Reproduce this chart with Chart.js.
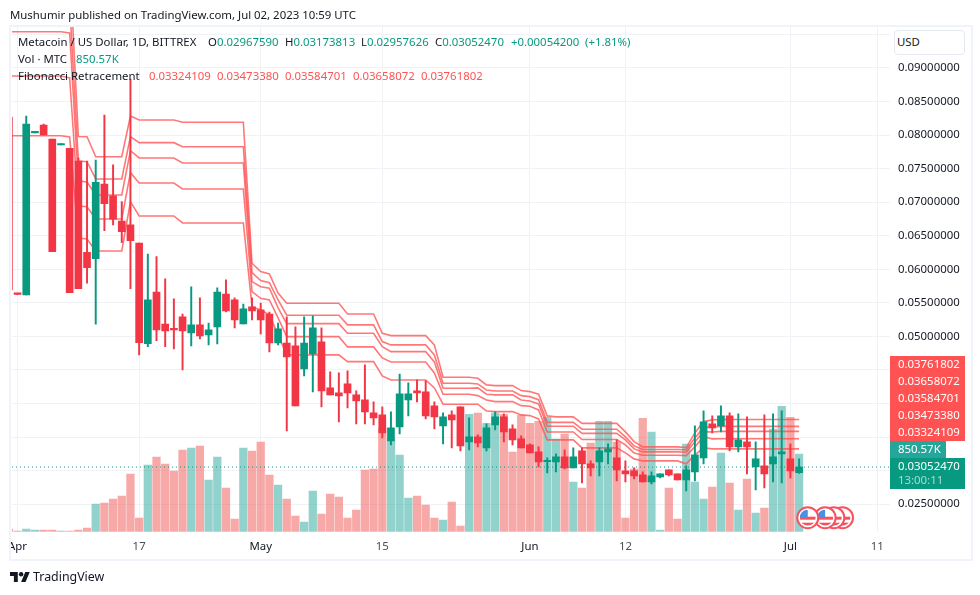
<!DOCTYPE html>
<html>
<head>
<meta charset="utf-8">
<title>Metacoin / US Dollar</title>
<script src="https://cdn.jsdelivr.net/npm/chart.js@4"></script>
<style>
  html, body { margin: 0; background: #fff; }
  #wrap { position: relative; width: 980px; height: 595px; overflow: hidden; font: 11.4px "Noto Sans", sans-serif; color: #131722; }
  #wrap canvas { position: absolute; left: 0; top: 0; }
  .txt { position: absolute; white-space: nowrap; line-height: 16px; }
  .up { color: #089981; }
  .fib { color: #ff5252; }
  #frame { position: absolute; left: 9px; top: 25px; width: 960px; height: 532px; border: 2px solid #f0f3fa; }
  #mask { position: absolute; left: 0; top: 532px; width: 9px; height: 28px; background: #fff; }
  #usd { position: absolute; left: 894px; top: 30px; width: 71px; height: 25px; background: #fff; border: 1px solid #e6e8ef; border-radius: 4px; box-sizing: border-box; padding: 3px 2px; line-height: 16px; }
  #logo { position: absolute; left: 10px; top: 572px; }
</style>
</head>
<body>
<div id="wrap">
  <canvas id="chart" width="980" height="595"></canvas>
  <div id="frame"></div>
  <div id="mask"></div>
  <div class="txt" style="left:10px;top:7px">Mushumir published on TradingView.com, Jul 02, 2023 10:59 UTC</div>

  <div class="txt" style="left:18px;top:34px">Metacoin / US Dollar, 1D, BITTREX</div>
  <div class="txt" style="left:208px;top:34px">O<span class="up">0.02967590</span></div>
  <div class="txt" style="left:285px;top:34px">H<span class="up">0.03173813</span></div>
  <div class="txt" style="left:361px;top:34px">L<span class="up">0.02957626</span></div>
  <div class="txt" style="left:435px;top:34px">C<span class="up">0.03052470</span></div>
  <div class="txt up" style="left:511px;top:34px">+0.00054200</div>
  <div class="txt up" style="left:585px;top:34px">(+1.81%)</div>

  <div class="txt" style="left:18px;top:51px">Vol · MTC</div>
  <div class="txt up" style="left:76px;top:51px">850.57K</div>

  <div class="txt" style="left:18px;top:68px">Fibonacci Retracement</div>
  <div class="txt fib" style="left:149px;top:68px">0.03324109</div>
  <div class="txt fib" style="left:217px;top:68px">0.03473380</div>
  <div class="txt fib" style="left:285px;top:68px">0.03584701</div>
  <div class="txt fib" style="left:353px;top:68px">0.03658072</div>
  <div class="txt fib" style="left:421px;top:68px">0.03761802</div>

  <div id="usd">USD</div>

  <svg id="logo" width="20" height="10" viewBox="0 4 36 18"><path fill="#131722" d="M14 22H7V11H0V4h14v18zM28 22h-8l7.5-18h8L28 22z"/><circle fill="#131722" cx="20" cy="8" r="4"/></svg>
  <div class="txt" style="left:33px;top:569px;font-size:12.4px">TradingView</div>
</div>

<script>
// day 0 is Apr 2 2023, one candle per day up to Jul 2
const tickDays = [1, 15, 29, 43, 60, 71, 90, 100];
const tickLabels = ["Apr", "17", "May", "15", "Jun", "12", "Jul", "11"];
const eventDays = [96, 95, 94, 92];

const opens = [
  0.08270, 0.05632, 0.05617, 0.08034, 0.08150, 0.07942, 0.07853, 0.07803, 0.07614, 0.06254,
  0.06158, 0.07271, 0.07093, 0.06720, 0.06661, 0.06392, 0.04892, 0.05662, 0.05185, 0.05111,
  0.05290, 0.05051, 0.05171, 0.05022, 0.05141, 0.05632, 0.05543, 0.05185, 0.05439, 0.05394,
  0.05334, 0.04902, 0.04902, 0.04858, 0.04515, 0.04738, 0.04917, 0.04232, 0.04157, 0.04291,
  0.04128, 0.04053, 0.03859, 0.03830, 0.03442, 0.03651, 0.04053, 0.04187, 0.04172, 0.03964,
  0.03666, 0.03830, 0.03949, 0.03427, 0.03502, 0.03338, 0.03681, 0.03800, 0.03621, 0.03472,
  0.03383, 0.03278, 0.03132, 0.03129, 0.03204, 0.03040, 0.03293, 0.03100, 0.03129, 0.03278,
  0.03189, 0.02995, 0.02995, 0.02936, 0.02831, 0.02906, 0.03010, 0.02950, 0.02861, 0.02980,
  0.03189, 0.03695, 0.03666, 0.03815, 0.03353, 0.03427, 0.03055, 0.03070, 0.03100, 0.03248,
  0.03174, 0.02967590
];
const highs = [
  0.08270, 0.05632, 0.08285, 0.08046, 0.08165, 0.07942, 0.07868, 0.07803, 0.07659, 0.07614,
  0.07629, 0.08300, 0.07555, 0.07008, 0.08836, 0.06392, 0.06228, 0.06188, 0.05856, 0.05558,
  0.05334, 0.05737, 0.05573, 0.05200, 0.05722, 0.05841, 0.05573, 0.05483, 0.05573, 0.05498,
  0.05364, 0.05200, 0.05290, 0.05141, 0.05290, 0.05305, 0.05126, 0.04470, 0.04455, 0.04485,
  0.04187, 0.04575, 0.04023, 0.03949, 0.03874, 0.04440, 0.04306, 0.04351, 0.04336, 0.04023,
  0.03859, 0.03889, 0.03949, 0.03785, 0.03532, 0.03695, 0.03874, 0.03844, 0.03681, 0.03517,
  0.03397, 0.03353, 0.03189, 0.03248, 0.03308, 0.03338, 0.03338, 0.03144, 0.03338, 0.03397,
  0.03457, 0.03144, 0.03040, 0.02980, 0.02980, 0.02950, 0.03010, 0.02950, 0.03070, 0.03666,
  0.03889, 0.03815, 0.03964, 0.03859, 0.03844, 0.03800, 0.03427, 0.03830, 0.03844, 0.03889,
  0.03397, 0.03173813
];
const lows = [
  0.05692, 0.05625, 0.05617, 0.08034, 0.08001, 0.06263, 0.07853, 0.05652, 0.05711, 0.05792,
  0.05181, 0.06576, 0.06661, 0.06397, 0.05711, 0.04724, 0.04847, 0.04937, 0.04847, 0.04813,
  0.04500, 0.04858, 0.04962, 0.04873, 0.04888, 0.05364, 0.05126, 0.05185, 0.05245, 0.05037,
  0.04768, 0.04873, 0.03591, 0.03964, 0.04411, 0.04172, 0.03949, 0.04128, 0.03725, 0.03934,
  0.03695, 0.03695, 0.03681, 0.03487, 0.03383, 0.03546, 0.03815, 0.04023, 0.03770, 0.03621,
  0.03397, 0.03338, 0.03293, 0.03308, 0.03353, 0.03293, 0.03606, 0.03427, 0.03383, 0.03338,
  0.03263, 0.03055, 0.02965, 0.02980, 0.03025, 0.03040, 0.02816, 0.02921, 0.02921, 0.03100,
  0.02846, 0.02831, 0.02876, 0.02831, 0.02801, 0.02891, 0.02921, 0.02861, 0.02697, 0.02846,
  0.03100, 0.03561, 0.03576, 0.03293, 0.03278, 0.02950, 0.02712, 0.02742, 0.02831, 0.02816,
  0.02891, 0.02957626
];
const closes = [
  0.05692, 0.05625, 0.08165, 0.08046, 0.08001, 0.06263, 0.07868, 0.05652, 0.05711, 0.06024,
  0.07297, 0.06978, 0.06746, 0.06561, 0.06427, 0.04907, 0.05543, 0.05096, 0.05081, 0.05096,
  0.05081, 0.05171, 0.05007, 0.05096, 0.05662, 0.05379, 0.05245, 0.05409, 0.05379, 0.05245,
  0.04902, 0.05111, 0.04694, 0.03964, 0.04902, 0.05126, 0.04187, 0.04128, 0.04113, 0.04157,
  0.04038, 0.03874, 0.03785, 0.03561, 0.03636, 0.04142, 0.04142, 0.04157, 0.03815, 0.03800,
  0.03800, 0.03755, 0.03368, 0.03502, 0.03412, 0.03636, 0.03800, 0.03576, 0.03457, 0.03338,
  0.03263, 0.03129, 0.03144, 0.03204, 0.03040, 0.03204, 0.03100, 0.03040, 0.03293, 0.03323,
  0.03010, 0.02950, 0.02921, 0.02831, 0.02921, 0.02950, 0.02936, 0.02861, 0.03010, 0.03234,
  0.03725, 0.03636, 0.03815, 0.03353, 0.03457, 0.03353, 0.03174, 0.02950, 0.03204, 0.03278,
  0.02995, 0.03052470
];
// volume in thousands of MTC
const volumes = [
  30, 8, 30, 19, 19, 19, 8, 8, 19, 41,
  303, 314, 358, 391, 632, 150, 730, 818, 741, 665,
  895, 917, 938, 566, 818, 479, 139, 917, 884, 982,
  621, 511, 358, 172, 106, 446, 194, 413, 380, 150,
  238, 676, 687, 1136, 1015, 840, 369, 391, 292, 150,
  128, 325, 62, 1289, 1300, 1190, 1300, 1289, 873, 1278,
  1190, 1212, 1256, 1015, 1070, 544, 479, 971, 1212, 1212,
  982, 150, 687, 1245, 1092, 19, 479, 139, 960, 544,
  358, 489, 862, 533, 238, 577, 205, 260, 1125, 1376,
  1256, 850.57
];

const fib100 = [
  0.10594, 0.10594, 0.10594, 0.10594, 0.10594, 0.10594, 0.10594, 0.10564, 0.07979, 0.07976,
  0.07678, 0.07678, 0.07678, 0.07678, 0.08285, 0.08225, 0.08225, 0.08225, 0.08225, 0.08225,
  0.08191, 0.08191, 0.08191, 0.08191, 0.08191, 0.08191, 0.08191, 0.08191, 0.06090, 0.05965,
  0.05931, 0.05647, 0.05494, 0.05494, 0.05494, 0.05494, 0.05494, 0.05494, 0.05494, 0.05334,
  0.05334, 0.05334, 0.05334, 0.05047, 0.05011, 0.05011, 0.05011, 0.05011, 0.05011, 0.04873,
  0.04391, 0.04391, 0.04391, 0.04391, 0.04376, 0.04277, 0.04266, 0.04266, 0.04266, 0.04192,
  0.04177, 0.04138, 0.03815, 0.03800, 0.03800, 0.03800, 0.03703, 0.03703, 0.03703, 0.03703,
  0.03703, 0.03576, 0.03432, 0.03353, 0.03353, 0.03353, 0.03353, 0.03353, 0.03342, 0.03561,
  0.03730, 0.03755, 0.03761802, 0.03761802, 0.03761802, 0.03761802, 0.03761802, 0.03761802, 0.03761802, 0.03761802,
  0.03761802, 0.03761802
];
const fib76 = [
  0.09976, 0.09976, 0.09976, 0.09976, 0.09976, 0.09976, 0.09976, 0.09953, 0.07614, 0.07604,
  0.07346, 0.07346, 0.07346, 0.07346, 0.07976, 0.07887, 0.07887, 0.07887, 0.07887, 0.07887,
  0.07827, 0.07827, 0.07827, 0.07827, 0.07827, 0.07827, 0.07827, 0.07827, 0.05950, 0.05831,
  0.05801, 0.05543, 0.05315, 0.05315, 0.05315, 0.05315, 0.05315, 0.05315, 0.05315, 0.05171,
  0.05171, 0.05171, 0.05171, 0.04922, 0.04873, 0.04873, 0.04873, 0.04873, 0.04873, 0.04724,
  0.04302, 0.04302, 0.04302, 0.04302, 0.04291, 0.04202, 0.04187, 0.04187, 0.04187, 0.04117,
  0.04102, 0.04057, 0.03718, 0.03718, 0.03718, 0.03718, 0.03617, 0.03617, 0.03617, 0.03617,
  0.03617, 0.03502, 0.03368, 0.03313, 0.03313, 0.03313, 0.03313, 0.03313, 0.03308, 0.03487,
  0.03640, 0.03651, 0.03658072, 0.03658072, 0.03658072, 0.03658072, 0.03658072, 0.03658072, 0.03658072, 0.03658072,
  0.03658072, 0.03658072
];
const fib59 = [
  0.09541, 0.09541, 0.09541, 0.09541, 0.09541, 0.09541, 0.09541, 0.09521, 0.07316, 0.07301,
  0.07108, 0.07108, 0.07108, 0.07108, 0.07768, 0.07659, 0.07659, 0.07659, 0.07659, 0.07659,
  0.07584, 0.07584, 0.07584, 0.07584, 0.07584, 0.07584, 0.07584, 0.07584, 0.05816, 0.05741,
  0.05717, 0.05424, 0.05190, 0.05190, 0.05190, 0.05190, 0.05190, 0.05190, 0.05190, 0.05047,
  0.05047, 0.05047, 0.05047, 0.04847, 0.04773, 0.04773, 0.04773, 0.04773, 0.04773, 0.04619,
  0.04227, 0.04227, 0.04227, 0.04227, 0.04232, 0.04138, 0.04128, 0.04128, 0.04128, 0.04053,
  0.04038, 0.03993, 0.03661, 0.03661, 0.03661, 0.03661, 0.03555, 0.03555, 0.03555, 0.03555,
  0.03555, 0.03457, 0.03323, 0.03278, 0.03278, 0.03278, 0.03278, 0.03278, 0.03274, 0.03427,
  0.03581, 0.03576, 0.03584701, 0.03584701, 0.03584701, 0.03584701, 0.03584701, 0.03584701, 0.03584701, 0.03584701,
  0.03584701, 0.03584701
];
const fib34 = [
  0.08881, 0.08881, 0.08881, 0.08881, 0.08881, 0.08881, 0.08881, 0.08851, 0.06944, 0.06933,
  0.06750, 0.06750, 0.06750, 0.06750, 0.07440, 0.07286, 0.07286, 0.07286, 0.07286, 0.07286,
  0.07197, 0.07197, 0.07197, 0.07197, 0.07197, 0.07197, 0.07197, 0.07197, 0.05667, 0.05568,
  0.05543, 0.05275, 0.04996, 0.04996, 0.04996, 0.04996, 0.04996, 0.04996, 0.04996, 0.04843,
  0.04843, 0.04843, 0.04843, 0.04679, 0.04619, 0.04619, 0.04619, 0.04619, 0.04619, 0.04455,
  0.04138, 0.04138, 0.04138, 0.04138, 0.04117, 0.04053, 0.04028, 0.04028, 0.04028, 0.03968,
  0.03959, 0.03904, 0.03576, 0.03576, 0.03576, 0.03576, 0.03463, 0.03463, 0.03463, 0.03463,
  0.03463, 0.03382, 0.03263, 0.03228, 0.03228, 0.03228, 0.03228, 0.03228, 0.03223, 0.03353,
  0.03506, 0.03472, 0.03473380, 0.03473380, 0.03473380, 0.03473380, 0.03473380, 0.03473380, 0.03473380, 0.03473380,
  0.03473380, 0.03473380
];
const fib0 = [
  0.07991, 0.07991, 0.07991, 0.07991, 0.07991, 0.07991, 0.07991, 0.07972, 0.06467, 0.06452,
  0.06273, 0.06273, 0.06273, 0.06273, 0.07008, 0.06795, 0.06795, 0.06795, 0.06795, 0.06795,
  0.06690, 0.06690, 0.06690, 0.06690, 0.06690, 0.06690, 0.06690, 0.06690, 0.05443, 0.05394,
  0.05320, 0.05022, 0.04724, 0.04724, 0.04724, 0.04724, 0.04724, 0.04724, 0.04724, 0.04624,
  0.04624, 0.04624, 0.04624, 0.04411, 0.04351, 0.04351, 0.04351, 0.04351, 0.04351, 0.04232,
  0.03989, 0.03989, 0.03989, 0.03989, 0.03989, 0.03889, 0.03879, 0.03879, 0.03879, 0.03830,
  0.03819, 0.03770, 0.03457, 0.03457, 0.03457, 0.03457, 0.03338, 0.03338, 0.03338, 0.03338,
  0.03338, 0.03263, 0.03174, 0.03144, 0.03144, 0.03144, 0.03144, 0.03144, 0.03100, 0.03234,
  0.03338, 0.03323, 0.03324109, 0.03324109, 0.03324109, 0.03324109, 0.03324109, 0.03324109, 0.03324109, 0.03324109,
  0.03324109, 0.03324109
];

const lastPrice = 0.03052470;
const lastVolumeLabel = "850.57K";
const countdown = "13:00:11";

const upColor = "#089981";
const downColor = "#f23645";
const volUp = "rgba(38,166,154,0.5)";
const volDown = "rgba(239,83,80,0.5)";
const fibColor = "rgba(255,82,82,0.78)";
const gridColor = "#f1f2f5";
const uiFont = '"Noto Sans", sans-serif';

// x axis is in days, these limits make one day about 8.69 px
const xMin = 0.357;
const xMax = 101.47;

const isUp = opens.map((o, i) => closes[i] >= o);
const fibSeries = [fib100, fib76, fib59, fib34, fib0];

function fibDataset(values) {
  return {
    type: "line",
    order: 3,
    yAxisID: "y",
    data: values.map((v, i) => ({ x: i, y: v })),
    borderColor: fibColor,
    borderWidth: 1.6,
    pointRadius: 0,
    tension: 0
  };
}

// price boxes, flags on the axis etc
const overlayPlugin = {
  id: "overlay",
  afterDraw(chart) {
    const ctx = chart.ctx;
    const area = chart.chartArea;
    const x = chart.scales.x;
    ctx.save();

    eventDays.forEach(day => {
      const cx = x.getPixelForValue(day);
      const cy = area.bottom - 14;
      ctx.beginPath();
      ctx.arc(cx, cy, 10.5, 0, Math.PI * 2);
      ctx.fillStyle = "#fff";
      ctx.fill();
      ctx.strokeStyle = "#f7525f";
      ctx.lineWidth = 2;
      ctx.stroke();
      ctx.save();
      ctx.beginPath();
      ctx.arc(cx, cy, 8, 0, Math.PI * 2);
      ctx.clip();
      ctx.fillStyle = "#fff";
      ctx.fillRect(cx - 8, cy - 8, 16, 16);
      ctx.fillStyle = "#f7525f";
      ctx.fillRect(cx - 8, cy - 1, 16, 3);
      ctx.fillRect(cx - 8, cy + 5, 16, 3);
      ctx.fillStyle = "#4a90e2";
      ctx.fillRect(cx - 8, cy - 8, 8, 8);
      ctx.restore();
    });

    const left = area.right;
    ctx.font = "11.4px " + uiFont;
    ctx.textBaseline = "middle";
    ctx.fillStyle = "#ff5252";
    ctx.fillRect(left, 356, 75, 85);
    ctx.fillStyle = "#fff";
    fibSeries.forEach((s, i) => {
      ctx.fillText(s[s.length - 1].toFixed(8), left + 8, 365 + i * 17);
    });
    ctx.fillStyle = "#26a69a";
    ctx.fillRect(left, 441, 56, 17);
    ctx.fillStyle = upColor;
    ctx.fillRect(left, 458, 75, 31);
    ctx.fillStyle = "#fff";
    ctx.fillText(lastVolumeLabel, left + 8, 450);
    ctx.fillText(lastPrice.toFixed(8), left + 8, 466.5);
    ctx.fillStyle = "#a5dcd2";
    ctx.fillText(countdown, left + 8, 480.5);
    ctx.restore();
  }
};

new Chart(document.getElementById("chart"), {
  type: "bar",
  plugins: [overlayPlugin],
  data: {
    datasets: [
      {
        order: 5,
        yAxisID: "vol",
        grouped: false,
        barThickness: 7.6,
        data: volumes.map((v, i) => ({ x: i, y: v })),
        backgroundColor: isUp.map(u => (u ? volUp : volDown))
      },
      ...fibSeries.map(fibDataset),
      {
        type: "line",
        order: 2,
        yAxisID: "y",
        data: [{ x: xMin, y: lastPrice }, { x: xMax, y: lastPrice }],
        borderColor: upColor,
        borderWidth: 1,
        borderDash: [1, 3],
        pointRadius: 0
      },
      {
        order: 1,
        yAxisID: "y",
        grouped: false,
        barThickness: 1.3,
        data: lows.map((l, i) => ({ x: i, y: [l, highs[i]] })),
        backgroundColor: isUp.map(u => (u ? upColor : downColor))
      },
      {
        order: 0,
        yAxisID: "y",
        grouped: false,
        barThickness: 7,
        minBarLength: 1.5,
        data: opens.map((o, i) => ({ x: i, y: [o, closes[i]] })),
        backgroundColor: isUp.map(u => (u ? upColor : downColor))
      }
    ]
  },
  options: {
    responsive: false,
    animation: false,
    devicePixelRatio: 1,
    layout: { padding: { left: 11, top: 27, right: 10, bottom: 28 } },
    plugins: { legend: { display: false }, tooltip: { enabled: false } },
    scales: {
      x: {
        type: "linear",
        offset: false,
        min: xMin,
        max: xMax,
        border: { display: false },
        grid: { color: gridColor, drawTicks: false, offset: false },
        afterBuildTicks: scale => { scale.ticks = tickDays.map(d => ({ value: d })); },
        afterFit: scale => { scale.height = 35.3; },
        ticks: {
          autoSkip: false,
          maxRotation: 0,
          padding: 8,
          font: { family: uiFont, size: 11.4 },
          color: ctx => (isNaN(tickLabels[ctx.index]) ? "#131722" : "#4a4e59"),
          callback: (v, i) => tickLabels[i]
        }
      },
      y: {
        position: "right",
        min: 0.02089,
        max: 0.09611,
        border: { display: false },
        grid: { color: gridColor, drawTicks: false },
        afterFit: scale => { scale.width = 80; },
        ticks: {
          stepSize: 0.005,
          includeBounds: false,
          padding: 8,
          font: { family: uiFont, size: 11.4 },
          color: "#131722",
          callback: v => v.toFixed(8)
        }
      },
      vol: {
        display: false,
        min: 0,
        max: 5537
      }
    }
  }
});
</script>
</body>
</html>
